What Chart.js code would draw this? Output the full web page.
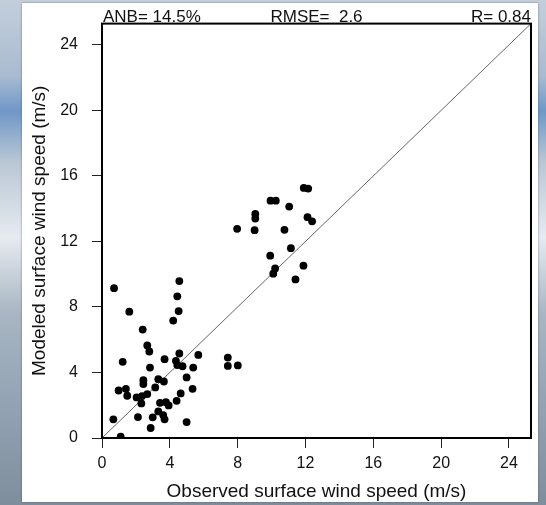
<!DOCTYPE html>
<html>
<head>
<meta charset="utf-8">
<script src="https://cdn.jsdelivr.net/npm/chart.js@4.4.1/dist/chart.umd.min.js"></script>
<style>
    html, body { margin: 0; padding: 0; }
    body {
        width: 546px; height: 505px; position: relative; overflow: hidden;
        background: linear-gradient(180deg, #c3cfdb 0%, #a9bbd0 15%, #6f97c8 22%, #b9c7d4 32%, #e6ebef 47%, #a8b6c3 62%, #93a3b3 80%, #7f8e9c 100%);
    }
    .panel {
        position: absolute; left: 22px; top: 3px; width: 516px; height: 499px;
        background: #fff; box-shadow: 0 0 2px rgba(60, 70, 80, 0.6);
    }
    #chart { position: absolute; left: 0; top: 0; }
</style>
</head>
<body>
<div class="panel"></div>
<canvas id="chart" width="546" height="505"></canvas>
<script>
/* --- Data --- */
const observed = [
    0.71, 4.56, 4.44, 1.61, 4.52, 4.20, 2.40, 2.67, 2.79, 1.22,
    3.69, 4.56, 4.36, 5.68, 4.44, 4.75, 2.83, 5.38, 7.42, 7.42,
    8.01, 4.99, 3.32, 3.65, 2.44, 2.44, 3.14, 0.98, 1.41, 1.49,
    5.34, 2.04, 2.36, 2.67, 2.32, 4.64, 4.40, 3.42, 3.77, 3.93,
    3.32, 3.61, 3.69, 2.99, 2.12, 0.67, 4.99, 2.87, 1.10,
    9.92, 11.14, 10.21, 10.10, 11.88, 11.41,
    11.90, 12.16, 9.94, 10.25, 11.04, 9.04, 9.04, 7.97, 9.00, 10.76, 12.12, 12.39
];
const modeled = [
    9.15, 9.58, 8.65, 7.71, 7.75, 7.17, 6.62, 5.65, 5.28, 4.65,
    4.81, 5.16, 4.71, 5.07, 4.45, 4.38, 4.30, 4.30, 4.91, 4.40,
    4.43, 3.70, 3.59, 3.45, 3.53, 3.29, 3.09, 2.90, 3.00, 2.58,
    3.00, 2.48, 2.56, 2.68, 2.11, 2.72, 2.27, 2.15, 2.19, 1.99,
    1.62, 1.40, 1.14, 1.26, 1.28, 1.14, 0.97, 0.61, 0.08,
    11.13, 11.59, 10.35, 10.03, 10.52, 9.68,
    15.27, 15.23, 14.49, 14.49, 14.13, 13.68, 13.40, 12.77, 12.69, 12.71, 13.48, 13.23
];
const tickValues = [0, 4, 8, 12, 16, 20, 24];
const axisMax = 25.3;
const statLabels = ['ANB= 14.5%', 'RMSE=  2.6', 'R= 0.84'];
const xTitle = 'Observed surface wind speed (m/s)';
const yTitle = 'Modeled surface wind speed (m/s)';

const FONT = '"Liberation Sans", Arial, Helvetica, sans-serif';

/* --- Box round the plot + stats line above it --- */
const frameAndStats = {
    id: 'frameAndStats',
    afterDatasetsDraw(chart) {
        const { ctx, chartArea: a } = chart;
        ctx.save();
        ctx.strokeStyle = '#000';
        ctx.lineWidth = 2;
        ctx.strokeRect(a.left, a.top, a.right - a.left, a.bottom - a.top);

        ctx.fillStyle = '#111';
        ctx.font = '17px ' + FONT;
        ctx.textBaseline = 'alphabetic';
        const y = a.top - 2;
        ctx.textAlign = 'left';
        ctx.fillText(statLabels[0], a.left + 1, y);
        ctx.textAlign = 'center';
        ctx.fillText(statLabels[1], (a.left + a.right) / 2, y);
        ctx.textAlign = 'right';
        ctx.fillText(statLabels[2], a.right, y);
        ctx.restore();
    }
};

function axisOptions(title, isX) {
    return {
        type: 'linear',
        min: 0,
        max: axisMax,
        afterBuildTicks: (scale) => { scale.ticks = tickValues.map(v => ({ value: v })); },
        afterFit: (scale) => {
            if (isX) scale.height = 67;
            else scale.width = 102;
        },
        grid: {
            display: true,
            drawOnChartArea: false,
            drawTicks: true,
            tickLength: 10,
            color: '#222',
            lineWidth: 1
        },
        border: { display: false },
        ticks: {
            color: '#111',
            font: { family: FONT, size: 16 },
            padding: isX ? 6 : 14,
            maxRotation: 0
        },
        title: {
            display: true,
            text: title,
            color: '#111',
            font: { family: FONT, size: 19, lineHeight: 1.2 },
            padding: isX ? { top: 0, bottom: 2 } : { top: 28, bottom: 0 }
        }
    };
}

const ctx = document.getElementById('chart').getContext('2d');
new Chart(ctx, {
    type: 'scatter',
    data: {
        datasets: [
            {
                label: 'stations',
                data: observed.map((x, i) => ({ x, y: modeled[i] })),
                backgroundColor: '#000',
                borderWidth: 0,
                pointRadius: 3.9,
                order: 1
            },
            {
                label: '1:1',
                data: [{ x: 0, y: 0 }, { x: axisMax, y: axisMax }],
                showLine: true,
                borderColor: '#666',
                borderWidth: 1,
                pointRadius: 0,
                order: 2
            }
        ]
    },
    options: {
        responsive: false,
        animation: false,
        layout: { padding: { top: 23, right: 15, left: 0, bottom: 0 } },
        plugins: {
            legend: { display: false },
            tooltip: { enabled: false }
        },
        scales: {
            x: axisOptions(xTitle, true),
            y: axisOptions(yTitle, false)
        }
    },
    plugins: [frameAndStats]
});
</script>
</body>
</html>
